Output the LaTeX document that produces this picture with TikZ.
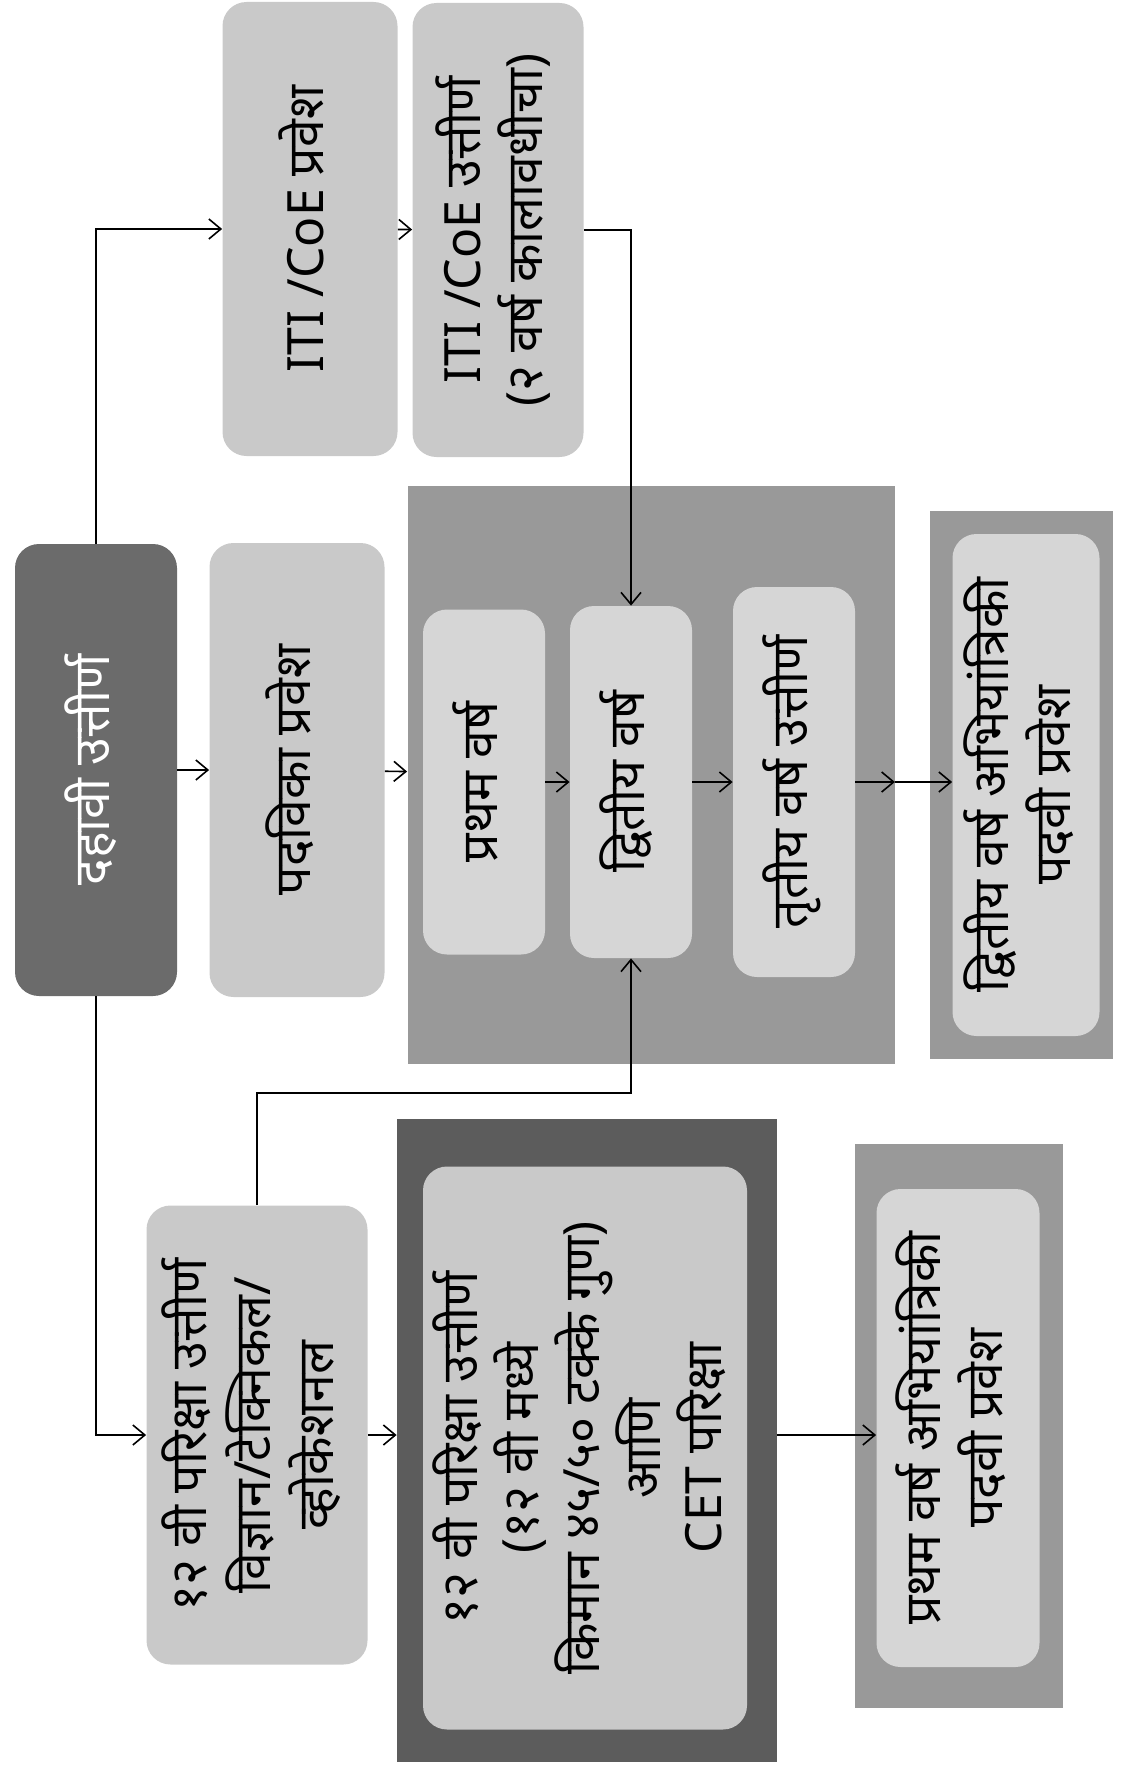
\documentclass[tikz,border=0pt]{standalone}
\usepackage{fontspec}
\newfontfamily\deva[Script=Devanagari]{Noto Sans}
\usetikzlibrary{arrows.meta}
\definecolor{grisfonce}{rgb}{0.42,0.42,0.42}
\definecolor{grisclair}{rgb}{0.79,0.79,0.79}
\definecolor{griscadre}{rgb}{0.60,0.60,0.60}
\definecolor{grisnoir}{rgb}{0.36,0.36,0.36}
\definecolor{grispale}{rgb}{0.84,0.84,0.84}
\newcommand{\vtxt}[1]{\rotatebox{90}{\begin{tabular}{c}#1\end{tabular}}}

\begin{document}
\begin{tikzpicture}[x=0.5pt, y=-0.5pt, >={Straight Barb[length=6pt,width=10pt]}]
	\tikzstyle{boite}=[rounded corners=12pt, inner sep=0pt, text=black, font=\deva\fontsize{25}{29}\selectfont]
	\tikzstyle{cadre}=[inner sep=0pt]
	\tikzstyle{fl}=[->, line width=0.8pt]

	\useasboundingbox (0,0) rectangle (1124,1766);

	% CADRES
	\node[cadre, fill=griscadre, minimum width=243.5pt, minimum height=289pt] (BLOC) at (651,775) {};
	\node[cadre, fill=griscadre, minimum width=91.5pt, minimum height=274pt] (ENG2o) at (1021,785) {};
	\node[cadre, fill=grisnoir, minimum width=190pt, minimum height=321.5pt] (CETo) at (587,1440) {};
	\node[cadre, fill=griscadre, minimum width=104pt, minimum height=282pt] (ENG1o) at (959,1426) {};

	% BOITES
	\node[boite, fill=grisfonce, text=white, minimum width=81pt, minimum height=226pt] (D10) at (96,770) {\vtxt{दहावी उत्तीर्ण}};
	\node[boite, fill=grisclair, minimum width=87.5pt, minimum height=227pt] (ITI1) at (310,229) {\vtxt{ITI /CoE प्रवेश}};
	\node[boite, fill=grisclair, minimum width=85.5pt, minimum height=227pt] (ITI2) at (498,230) {\vtxt{ITI /CoE उत्तीर्ण\\(२ वर्ष कालावधीचा)}};
	\node[boite, fill=grisclair, minimum width=87.5pt, minimum height=227pt] (DIP) at (297,770) {\vtxt{पदविका प्रवेश}};
	\node[boite, fill=grispale, minimum width=61pt, minimum height=172.5pt] (Y1) at (484,782) {\vtxt{प्रथम वर्ष}};
	\node[boite, fill=grispale, minimum width=61pt, minimum height=176pt] (Y2) at (631,782) {\vtxt{द्वितीय वर्ष}};
	\node[boite, fill=grispale, minimum width=61pt, minimum height=195pt] (Y3) at (794,782) {\vtxt{तृतीय वर्ष उत्तीर्ण}};
	\node[boite, fill=grispale, minimum width=73.5pt, minimum height=251pt] (ENG2) at (1026,785) {\vtxt{द्वितीय वर्ष अभियांत्रिकी\\पदवी प्रवेश}};
	\node[boite, fill=grisclair, minimum width=110.5pt, minimum height=229.5pt, font=\deva\fontsize{25}{31}\selectfont] (H12) at (257,1435) {\vtxt{१२ वी परिक्षा उत्तीर्ण\\विज्ञान/टेक्निकल/\\व्होकेशनल}};
	\node[boite, fill=grisclair, minimum width=162pt, minimum height=281.5pt, font=\deva\fontsize{25}{27}\selectfont] (CET) at (585,1448) {\vtxt{१२ वी परिक्षा उत्तीर्ण\\(१२ वी मध्ये\\किमान ४५/५० टक्के गुण)\\आणि\\CET परिक्षा}};
	\node[boite, fill=grispale, minimum width=81.5pt, minimum height=239pt] (ENG1) at (958,1428) {\vtxt{प्रथम वर्ष अभियांत्रिकी\\पदवी प्रवेश}};

	\coordinate (J12) at (420,1093);

	% FLECHES
	\path[fl]
		(ITI1) edge (ITI2)
		(D10) edge (DIP)
		(DIP) edge (BLOC)
		(Y1) edge (Y2)
		(Y2) edge (Y3)
		(Y3) edge (Y3 -| BLOC.east)
		(Y3 -| BLOC.east) edge (Y3 -| ENG2.west)
		(H12) edge (H12 -| CETo.west)
		(CETo.east |- H12) edge (H12 -| ENG1.west)
	;
	\draw[fl] (D10.north) |- (ITI1.west);
	\draw[fl] (ITI2.east) -| (Y2.north);
	\draw[fl] (D10.south) |- (H12.west);
	\draw[fl] (H12.north) |- (J12) -| (Y2.south);
\end{tikzpicture}
\end{document}
